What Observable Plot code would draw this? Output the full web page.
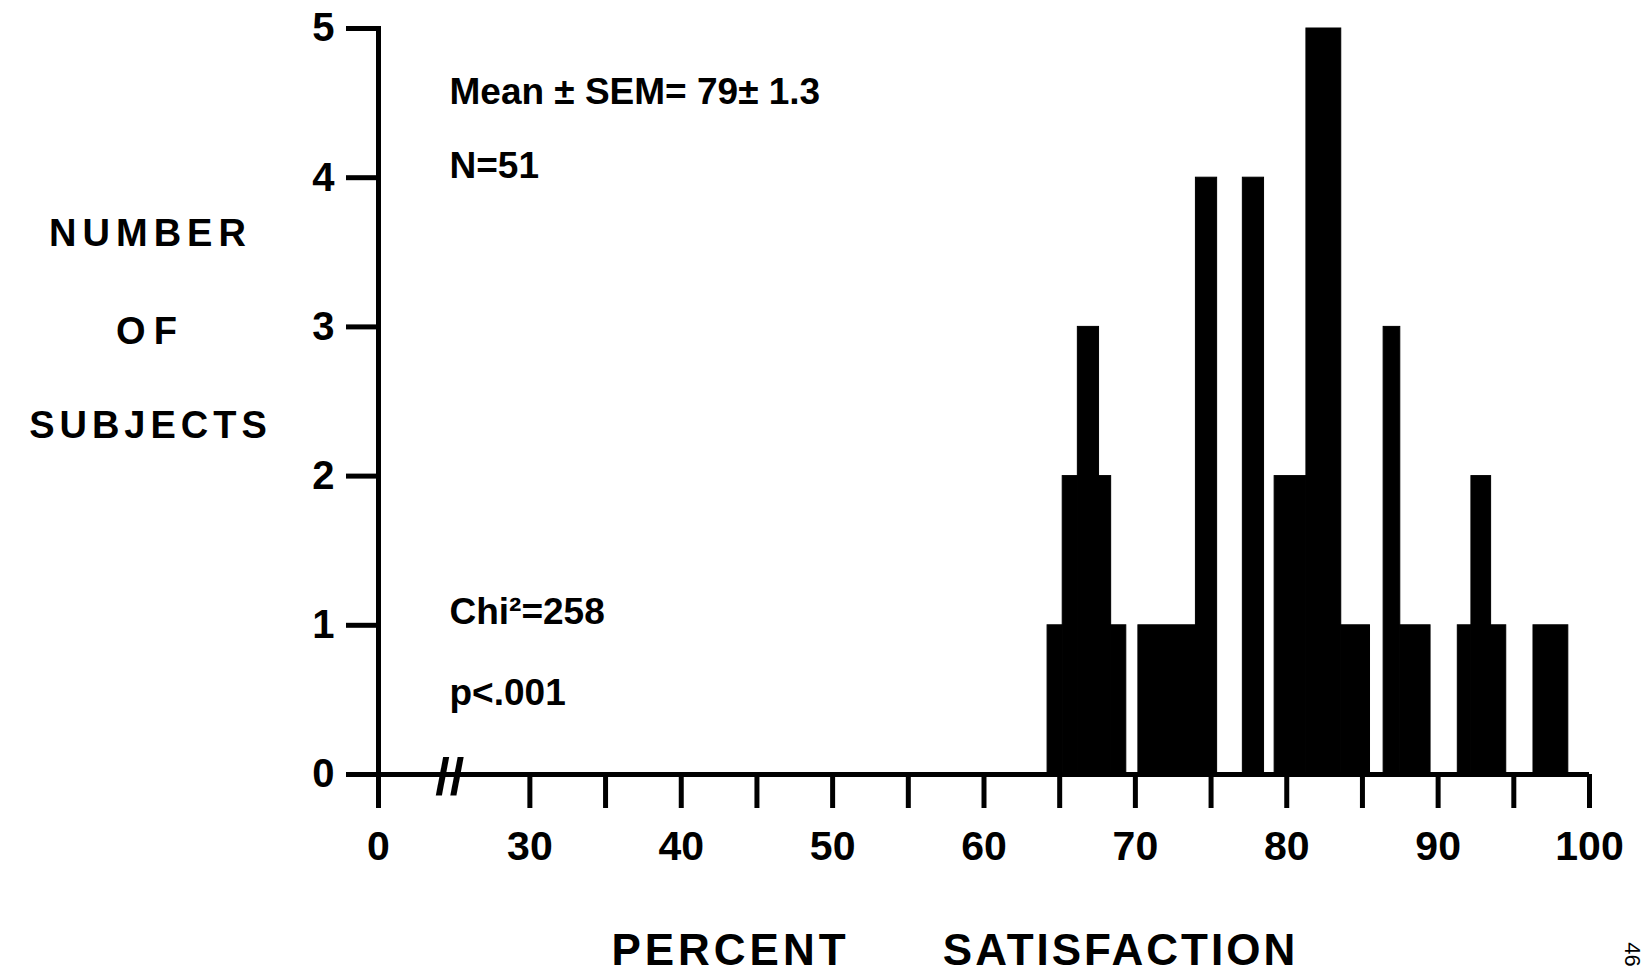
<!DOCTYPE html>
<html>
<head>
<meta charset="utf-8">
<script src="https://cdn.jsdelivr.net/npm/d3@7"></script>
<script src="https://cdn.jsdelivr.net/npm/@observablehq/plot@0.6"></script>
<style>
  html, body { margin: 0; padding: 0; background: #fff; }
  #chart svg { display: block; }
</style>
</head>
<body>
<div id="chart"></div>
<script>
// ---- data ----
const binStart = [64.2, 65.2, 66.2, 67.6, 68.4, 70.2, 74.0, 77.1, 79.2, 81.3, 83.6, 86.4, 87.5, 91.3, 92.2, 93.5, 96.3];
const binEnd   = [65.2, 66.2, 67.6, 68.4, 69.4, 74.0, 75.4, 78.5, 81.3, 83.6, 85.5, 87.5, 89.5, 92.2, 93.5, 94.5, 98.6];
const subjects = [1, 2, 3, 2, 1, 1, 4, 4, 2, 5, 1, 3, 1, 1, 2, 1, 1];

const xTicks      = [20, 30, 35, 40, 45, 50, 55, 60, 65, 70, 75, 80, 85, 90, 95, 100];
const xTickLabels = ["0", "30", "", "40", "", "50", "", "60", "", "70", "", "80", "", "90", "", "100"];
const yTicks      = [0, 1, 2, 3, 4, 5];
const axisBreak   = 24.7;

const yLabelLines = ["NUMBER", "OF", "SUBJECTS"];
const xLabelWords = ["PERCENT", "SATISFACTION"];
const statLines   = ["Mean \u00B1 SEM= 79\u00B1 1.3", "N=51", "Chi\u00B2=258", "p<.001"];
const pageMark    = "46";

// ---- build ----
const bars = binStart.map((s, i) => ({start: s, end: binEnd[i], n: subjects[i]}));
const labelOf = new Map(xTicks.map((t, i) => [t, xTickLabels[i]]));
const font = "'Liberation Sans', Arial, sans-serif";
const bold = {fontWeight: "bold", fill: "black", lineAnchor: "middle"};
const stat = {frameAnchor: "top-left", dx: 71, textAnchor: "start", fontSize: 37, ...bold};
const ylab = {frameAnchor: "top-left", dx: -228, textAnchor: "middle", fontSize: 38, ...bold};
const xlab = {frameAnchor: "bottom-left", dy: 176, textAnchor: "middle", fontSize: 44, ...bold};

const chart = Plot.plot({
  width: 1646,
  height: 975,
  marginLeft: 378,
  marginRight: 57,
  marginTop: 28,
  marginBottom: 201,
  style: {fontFamily: font, background: "white", color: "black", overflow: "visible"},
  x: {domain: [20, 100], axis: null},
  y: {domain: [0, 5], axis: null},
  marks: [
    Plot.rectY(bars, {x1: "start", x2: "end", y: "n", fill: "black", stroke: "black", strokeWidth: 1}),
    Plot.ruleY([yTicks[0]], {insetLeft: -32, stroke: "black", strokeWidth: 5}),
    Plot.frame({anchor: "left", stroke: "black", strokeWidth: 5}),
    Plot.axisX(xTicks, {
      anchor: "bottom", label: null, tickSize: 34, tickPadding: 22,
      fontSize: 41, fontWeight: "bold", strokeWidth: 5,
      tickFormat: d => labelOf.get(d)
    }),
    Plot.axisY(yTicks, {
      anchor: "left", label: null, tickSize: 32, tickPadding: 12,
      fontSize: 40, fontWeight: "bold", strokeWidth: 5,
      tickFormat: d => String(d)
    }),
    Plot.text([axisBreak], {x: d => d, y: yTicks[0], text: () => "//", fontSize: 52, ...bold, dy: 4}),
    // statistics
    Plot.text([statLines[0]], {...stat, dy: 64}),
    Plot.text([statLines[1]], {...stat, dy: 138}),
    Plot.text([statLines[2]], {...stat, dy: 584}),
    Plot.text([statLines[3]], {...stat, dy: 665}),
    // y label
    Plot.text([yLabelLines[0]], {...ylab, dy: 205}),
    Plot.text([yLabelLines[1]], {...ylab, dy: 303}),
    Plot.text([yLabelLines[2]], {...ylab, dy: 397}),
    // x label
    Plot.text([xLabelWords[0]], {...xlab, dx: 352}),
    Plot.text([xLabelWords[1]], {...xlab, dx: 742}),
    // page mark
    Plot.text([pageMark], {frameAnchor: "bottom-right", dx: 43, dy: 180, fontSize: 22, rotate: 90,
      textAnchor: "middle", lineAnchor: "middle", fill: "black"})
  ]
});

document.getElementById("chart").appendChild(chart);

// letter spacing for the lettered labels
const spacing = {"NUMBER": 6, "OF": 8, "SUBJECTS": 5, "PERCENT": 4, "SATISFACTION": 3};
d3.select(chart).selectAll("text").each(function() {
  const t = this.textContent;
  if (spacing[t] !== undefined) this.style.letterSpacing = spacing[t] + "px";
});
</script>
</body>
</html>
